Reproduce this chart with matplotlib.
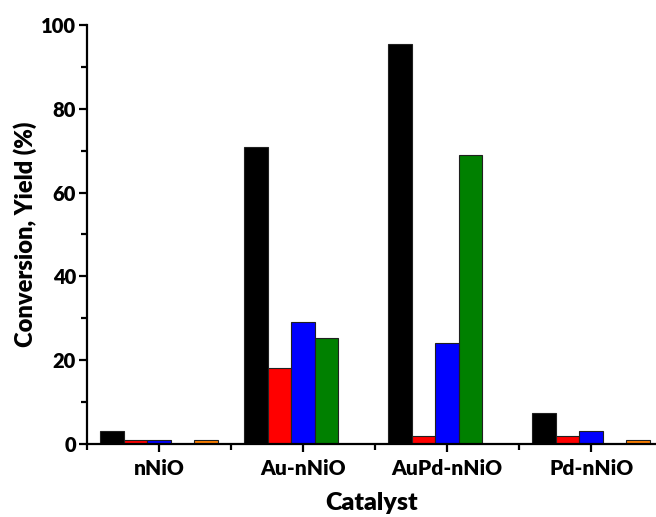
import numpy as np
import matplotlib.pyplot as plt

plt.rcParams['font.family'] = ['Lato', 'DejaVu Sans']
plt.rcParams['font.weight'] = 'heavy'

# Data
catalysts = ["nNiO", "Au-nNiO", "AuPd-nNiO", "Pd-nNiO"]
conversion = [3, 71, 95.4, 7.3]
series_red = [1, 18.2, 2, 2]
series_blue = [1, 29.2, 24, 3]
series_green = [0, 25.2, 69, 0]
series_orange = [1, 0, 0, 1]

series = [conversion, series_red, series_blue, series_green, series_orange]
colors = ['#000000', '#ff0000', '#0000ff', '#008000', '#ff8000']

fig = plt.figure(figsize=(6.56, 5.17), dpi=100)
ax = fig.add_axes([87 / 656, 1 - 444 / 517, 1 - 87 / 656, (444 - 25) / 517])

x = np.arange(len(catalysts))
w = 0.163
for i, (vals, c) in enumerate(zip(series, colors)):
    ax.bar(x + (i - 2) * w, vals, width=w, color=c, edgecolor='#202020',
           linewidth=0.8, zorder=2)

ax.set_xlim(-0.5, 3.45)
ax.set_ylim(0, 100)
ax.set_yticks(np.arange(0, 101, 20))
ax.set_yticks(np.arange(0, 101, 10), minor=True)
ax.set_xticks(x)
ax.set_xticklabels(catalysts)
ax.set_xticks(np.arange(-0.5, 3.5, 1.0), minor=True)

for s in ['top', 'right']:
    ax.spines[s].set_visible(False)
for s in ['left', 'bottom']:
    ax.spines[s].set_linewidth(1.6)
    ax.spines[s].set_zorder(3)

ax.tick_params(axis='both', which='major', direction='out', length=6, width=1.6,
               labelsize=15)
ax.tick_params(axis='y', which='major', labelsize=14.5, pad=2)
ax.tick_params(axis='both', which='minor', direction='out', length=4, width=1.6)
ax.tick_params(axis='x', which='major', pad=5)
for lab in ax.get_xticklabels() + ax.get_yticklabels():
    lab.set_fontweight('heavy')

ax.set_ylabel("Conversion, Yield (%)", fontsize=17, fontweight='heavy', labelpad=3)
ax.set_xlabel("Catalyst", fontsize=18, fontweight='heavy', labelpad=10)

fig.savefig("out.png", dpi=100)
